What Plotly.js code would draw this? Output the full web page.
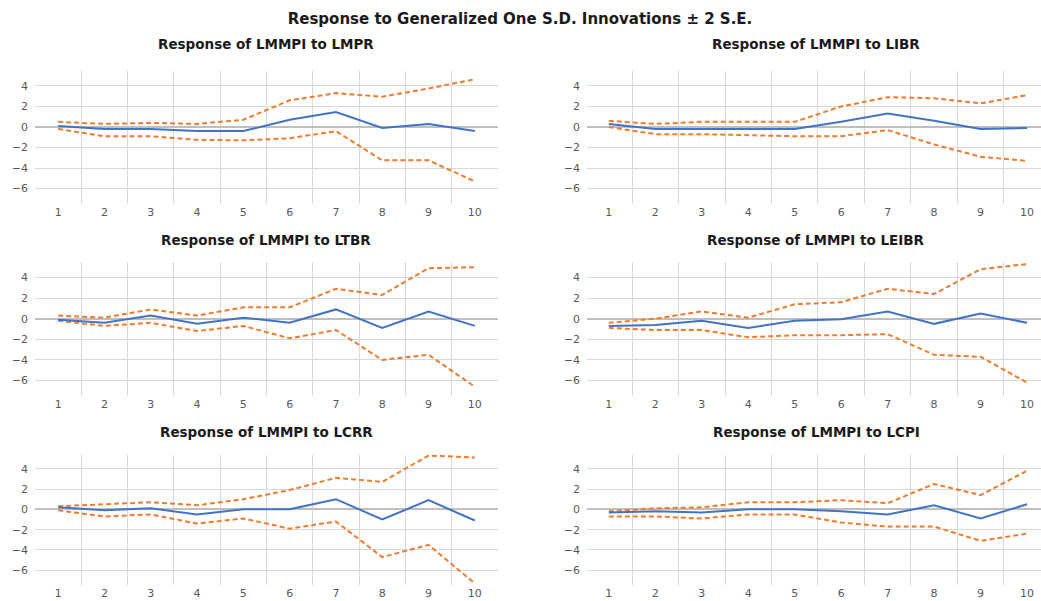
<!DOCTYPE html>
<html>
<head>
<meta charset="utf-8">
<script src="https://cdn.plot.ly/plotly-3.0.1.min.js"></script>
<style>html,body{margin:0;padding:0;background:#fff;}#chart{width:1041px;height:601px;}</style>
</head>
<body>
<div id="chart"></div>
<script>
// Periods
const periods = [1, 2, 3, 4, 5, 6, 7, 8, 9, 10];
const tickLabels = ["1", "2", "3", "4", "5", "6", "7", "8", "9", "10"];

// Panel titles
const panelTitles = [
  "Response of LMMPI to LMPR", "Response of LMMPI to LIBR",
  "Response of LMMPI to LTBR", "Response of LMMPI to LEIBR",
  "Response of LMMPI to LCRR", "Response of LMMPI to LCPI"
];

// LMPR
const lmprResp  = [0.1, -0.2, -0.2, -0.4, -0.4, 0.7, 1.45, -0.1, 0.3, -0.4];
const lmprUpper = [0.5, 0.3, 0.4, 0.3, 0.7, 2.6, 3.3, 2.95, 3.75, 4.65];
const lmprLower = [-0.2, -0.9, -0.9, -1.25, -1.3, -1.1, -0.4, -3.25, -3.25, -5.3];

// LIBR
const librResp  = [0.3, -0.2, -0.2, -0.2, -0.2, 0.5, 1.3, 0.6, -0.2, -0.1];
const librUpper = [0.6, 0.3, 0.5, 0.5, 0.5, 2.0, 2.9, 2.8, 2.3, 3.1];
const librLower = [0.0, -0.7, -0.7, -0.8, -0.9, -0.9, -0.3, -1.7, -2.9, -3.3];

// LTBR
const ltbrResp  = [-0.1, -0.4, 0.3, -0.5, 0.1, -0.4, 0.9, -0.9, 0.7, -0.7];
const ltbrUpper = [0.3, 0.1, 0.9, 0.3, 1.1, 1.1, 2.9, 2.3, 4.9, 5.0];
const ltbrLower = [-0.2, -0.7, -0.4, -1.2, -0.7, -1.9, -1.1, -4.0, -3.5, -6.6];

// LEIBR
const leibrResp  = [-0.7, -0.6, -0.2, -0.9, -0.2, -0.05, 0.7, -0.5, 0.5, -0.4];
const leibrUpper = [-0.4, 0.0, 0.7, 0.1, 1.4, 1.6, 2.9, 2.4, 4.8, 5.3];
const leibrLower = [-0.9, -1.1, -1.1, -1.8, -1.6, -1.6, -1.5, -3.5, -3.7, -6.2];

// LCRR
const lcrrResp  = [0.2, -0.1, 0.1, -0.5, 0.0, 0.0, 1.0, -1.0, 0.9, -1.1];
const lcrrUpper = [0.3, 0.5, 0.7, 0.4, 1.0, 1.9, 3.1, 2.7, 5.3, 5.1];
const lcrrLower = [-0.1, -0.7, -0.5, -1.4, -0.9, -1.9, -1.2, -4.7, -3.5, -7.3];

// LCPI
const lcpiResp  = [-0.3, -0.2, -0.3, 0.0, 0.0, -0.2, -0.5, 0.4, -0.9, 0.5];
const lcpiUpper = [-0.2, 0.1, 0.2, 0.7, 0.7, 0.9, 0.6, 2.5, 1.4, 3.8];
const lcpiLower = [-0.7, -0.7, -0.9, -0.5, -0.5, -1.3, -1.7, -1.7, -3.1, -2.4];

const panels = [
  [lmprResp, lmprUpper, lmprLower],
  [librResp, librUpper, librLower],
  [ltbrResp, ltbrUpper, ltbrLower],
  [leibrResp, leibrUpper, leibrLower],
  [lcrrResp, lcrrUpper, lcrrLower],
  [lcpiResp, lcpiUpper, lcpiLower]
];

const W = 1041, H = 601;
const colDom = [[35 / W, 498 / W], [587 / W, 1.0]];
const colRange = [[0.5, 10.5], [0.53, 10.3]];
const rowPx = [[70.5, 204], [262, 396], [455, 585]];
const rowRange = [[-7.5, 5.5], [-7.5, 5.5], [-7.45, 5.35]];
const rowDom = rowPx.map(p => [1 - p[1] / H, 1 - p[0] / H]);
const titleY = [44, 240, 432];
const titleX = [266, 816];

const BLUE = "#4472C4", ORANGE = "#ED7D31";
const traces = [];
const layout = {
  width: W, height: H,
  margin: {l: 0, r: 0, t: 0, b: 0},
  paper_bgcolor: "#ffffff", plot_bgcolor: "#ffffff",
  showlegend: false,
  font: {family: "DejaVu Sans, Verdana, sans-serif", color: "#595959", size: 11},
  title: {
    text: "Response to Generalized One S.D. Innovations \u00b1 2 S.E.",
    x: 520 / W, xanchor: "center", xref: "paper",
    y: 1 - 19 / H, yanchor: "middle", yref: "paper",
    font: {family: "DejaVu Sans, Verdana, sans-serif", size: 15, color: "#1a1a1a", weight: "bold"}
  },
  annotations: []
};

panels.forEach((p, i) => {
  const row = Math.floor(i / 2), col = i % 2;
  const n = i + 1;
  const xa = n === 1 ? "x" : "x" + n;
  const ya = n === 1 ? "y" : "y" + n;
  const xk = n === 1 ? "xaxis" : "xaxis" + n;
  const yk = n === 1 ? "yaxis" : "yaxis" + n;
  traces.push({x: periods, y: p[1], xaxis: xa, yaxis: ya, mode: "lines", type: "scatter",
    line: {color: ORANGE, width: 2, dash: "5px,3px"}, hoverinfo: "skip"});
  traces.push({x: periods, y: p[2], xaxis: xa, yaxis: ya, mode: "lines", type: "scatter",
    line: {color: ORANGE, width: 2, dash: "5px,3px"}, hoverinfo: "skip"});
  traces.push({x: periods, y: p[0], xaxis: xa, yaxis: ya, mode: "lines", type: "scatter",
    line: {color: BLUE, width: 2}, hoverinfo: "skip"});
  layout[xk] = {
    domain: colDom[col], anchor: ya, range: colRange[col],
    tickmode: "array", tickvals: periods, ticktext: tickLabels,
    showgrid: false, zeroline: false, showline: false, ticks: "",
    tickfont: {size: 11, color: "#595959"},
    minor: {tickmode: "array", tickvals: [1.5, 2.5, 3.5, 4.5, 5.5, 6.5, 7.5, 8.5, 9.5],
      showgrid: true, gridcolor: "#d9d9d9", gridwidth: 1, ticks: ""}
  };
  layout[yk] = {
    domain: rowDom[row], anchor: xa, range: rowRange[row],
    tickmode: "array", tickvals: [-6, -4, -2, 0, 2, 4],
    showgrid: true, gridcolor: "#d9d9d9", gridwidth: 1,
    zeroline: true, zerolinecolor: "#bfbfbf", zerolinewidth: 2,
    showline: false, ticks: "", ticklabelstandoff: 6,
    tickfont: {size: 11, color: "#595959"}
  };
  layout.annotations.push({
    text: panelTitles[i], xref: "paper", yref: "paper",
    x: titleX[col] / W, y: 1 - titleY[row] / H, xanchor: "center", yanchor: "middle",
    showarrow: false,
    font: {family: "DejaVu Sans, Verdana, sans-serif", size: 13.5, color: "#1a1a1a", weight: "bold"}
  });
});

Plotly.newPlot("chart", traces, layout, {staticPlot: true, displayModeBar: false});
</script>
</body>
</html>
